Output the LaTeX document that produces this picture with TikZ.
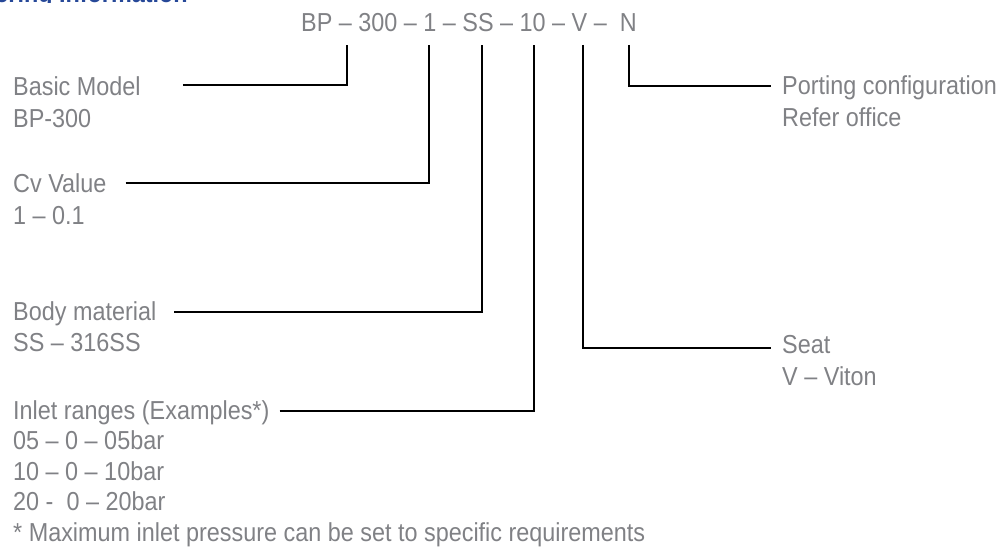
\documentclass[tikz,border=0pt]{standalone}
\usepackage{fontspec}
\setmainfont{Liberation Sans}[FakeStretch=0.9]
\usetikzlibrary{calc}
\definecolor{txtgray}{RGB}{128,129,133}
\definecolor{headblue}{RGB}{38,72,152}
\newcommand{\lblfont}{\fontsize{26}{31}\selectfont}
\begin{document}
\begin{tikzpicture}[x=1pt,y=-1pt,
  lbl/.style={anchor=base west, inner sep=0pt, text=txtgray, font=\lblfont},
  conn/.style={line width=2.2pt, line join=miter, draw=black}]
\useasboundingbox (0,0) rectangle (1005,548);
% clipped heading
\begin{scope}
\clip (0,0) rectangle (300,3);
\node[anchor=base east, inner sep=0pt, text=headblue, font=\fontsize{26}{31}\selectfont\bfseries] (head) at (188,2.5) {Ordering Information};
\end{scope}
% code
\node[lbl] (code) at (301,32) {BP – 300 – 1 – SS – 10 – V –\ \ N};
\coordinate (tBP) at (347,45);
\coordinate (tOne) at (429,45);
\coordinate (tSS) at (482,45);
\coordinate (tTen) at (534,45);
\coordinate (tV) at (583,45);
\coordinate (tN) at (629,45);
% left labels
\node[lbl] (bm) at (13,96) {Basic Model};
\node[lbl] (bm2) at (13,128) {BP-300};
\node[lbl] (cv) at (13,193) {Cv Value};
\node[lbl] (cv2) at (13,225) {1 – 0.1};
\node[lbl] (body) at (13,320) {Body material};
\node[lbl] (body2) at (13,352) {SS – 316SS};
\node[lbl] (inl) at (13,419) {Inlet ranges (Examples*)};
\node[lbl] (inl2) at (13,449) {05 – 0 – 05bar};
\node[lbl] (inl3) at (13,480) {10 – 0 – 10bar};
\node[lbl] (inl4) at (13,510) {20 -\ \ 0 – 20bar};
\node[lbl] (note) at (13,541) {* Maximum inlet pressure can be set to specific requirements};
% right labels
\node[lbl] (pc) at (782,95) {Porting configuration};
\node[lbl] (pc2) at (782,127) {Refer office};
\node[lbl] (seat) at (782,353) {Seat};
\node[lbl] (seat2) at (782,385) {V – Viton};
% connectors
\draw[conn] ($(bm.base east)+(42,-11)$) -| (tBP);
\draw[conn] ($(cv.base east)+(19,-10)$) -| (tOne);
\draw[conn] ($(body.base east)+(18,-8)$) -| (tSS);
\draw[conn] ($(inl.base east)+(10,-8)$) -| (tTen);
\draw[conn] (tV) |- ($(seat.base west)+(-11,-5)$);
\draw[conn] (tN) |- ($(pc.base west)+(-11,-9)$);
\end{tikzpicture}
\end{document}
